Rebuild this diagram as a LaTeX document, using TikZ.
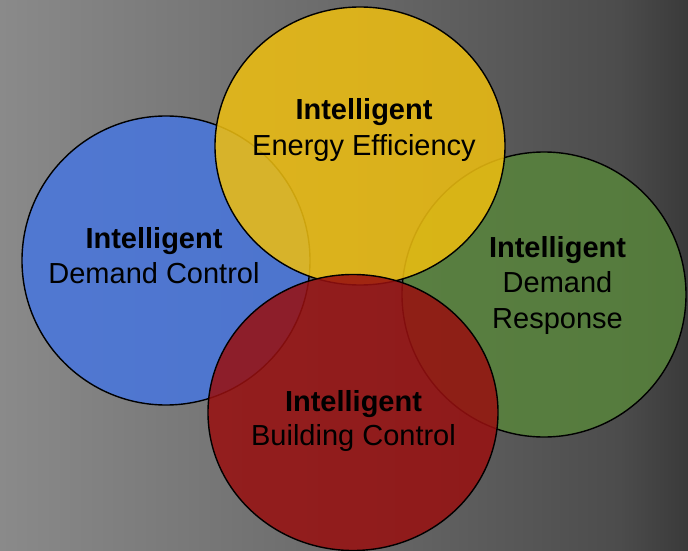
\documentclass[tikz,border=0pt]{standalone}
\usepackage{fontspec}
\setmainfont{Liberation Sans}
\usetikzlibrary{shapes.geometric}
\definecolor{bgL}{RGB}{138,138,138}
\definecolor{bgM}{RGB}{106,106,106}
\definecolor{bgR1}{RGB}{76,76,76}
\definecolor{bgR}{RGB}{58,58,58}
\definecolor{cblue}{RGB}{72,118,222}
\definecolor{cyellow}{RGB}{238,190,16}
\definecolor{cgreen}{RGB}{88,132,60}
\definecolor{cred}{RGB}{152,16,16}
\pgfdeclarehorizontalshading{bgshade}{100bp}{color(0bp)=(bgL); color(25bp)=(bgL); color(50bp)=(bgM); color(70bp)=(bgR1); color(75bp)=(bgR); color(100bp)=(bgR)}
\tikzset{
  disc/.style={ellipse, draw=black, line width=1.4pt, fill opacity=0.86, inner sep=0pt},
  titlelbl/.style={anchor=base, font=\fontsize{29}{35}\selectfont\bfseries, text=black, inner sep=0pt},
  sublbl/.style={anchor=base, font=\fontsize{29}{35}\selectfont, text=black, inner sep=0pt}
}
\begin{document}
\begin{tikzpicture}[x=1pt,y=-1pt]
\useasboundingbox (0,0) rectangle (688,551);
\fill[shading=bgshade] (0,0) rectangle (688,551);
% circles (drawing order: blue, green, yellow, red)
\node[disc, fill=cblue, minimum width=288pt, minimum height=289pt] (blue) at (166,260.5) {};
\node[disc, fill=cgreen, minimum width=284pt, minimum height=285pt] (green) at (544,294.5) {};
\node[disc, fill=cyellow, minimum width=290pt, minimum height=278pt] (yellow) at (360,146) {};
\node[disc, fill=cred, minimum width=290pt, minimum height=276pt] (red) at (353,412.5) {};
% labels
\node[titlelbl] (yt) at (364,119.5) {Intelligent};
\node[sublbl] (ys) at (364,155) {Energy Efficiency};
\node[titlelbl] (bt) at (154,248) {Intelligent};
\node[sublbl] (bs) at (154,283) {Demand Control};
\node[titlelbl] (gt) at (557.5,257.5) {Intelligent};
\node[sublbl] (gs1) at (557.5,292.7) {Demand};
\node[sublbl] (gs2) at (557.5,328) {Response};
\node[titlelbl] (rt) at (353.5,411) {Intelligent};
\node[sublbl] (rs) at (353.5,445.5) {Building Control};
\end{tikzpicture}
\end{document}
